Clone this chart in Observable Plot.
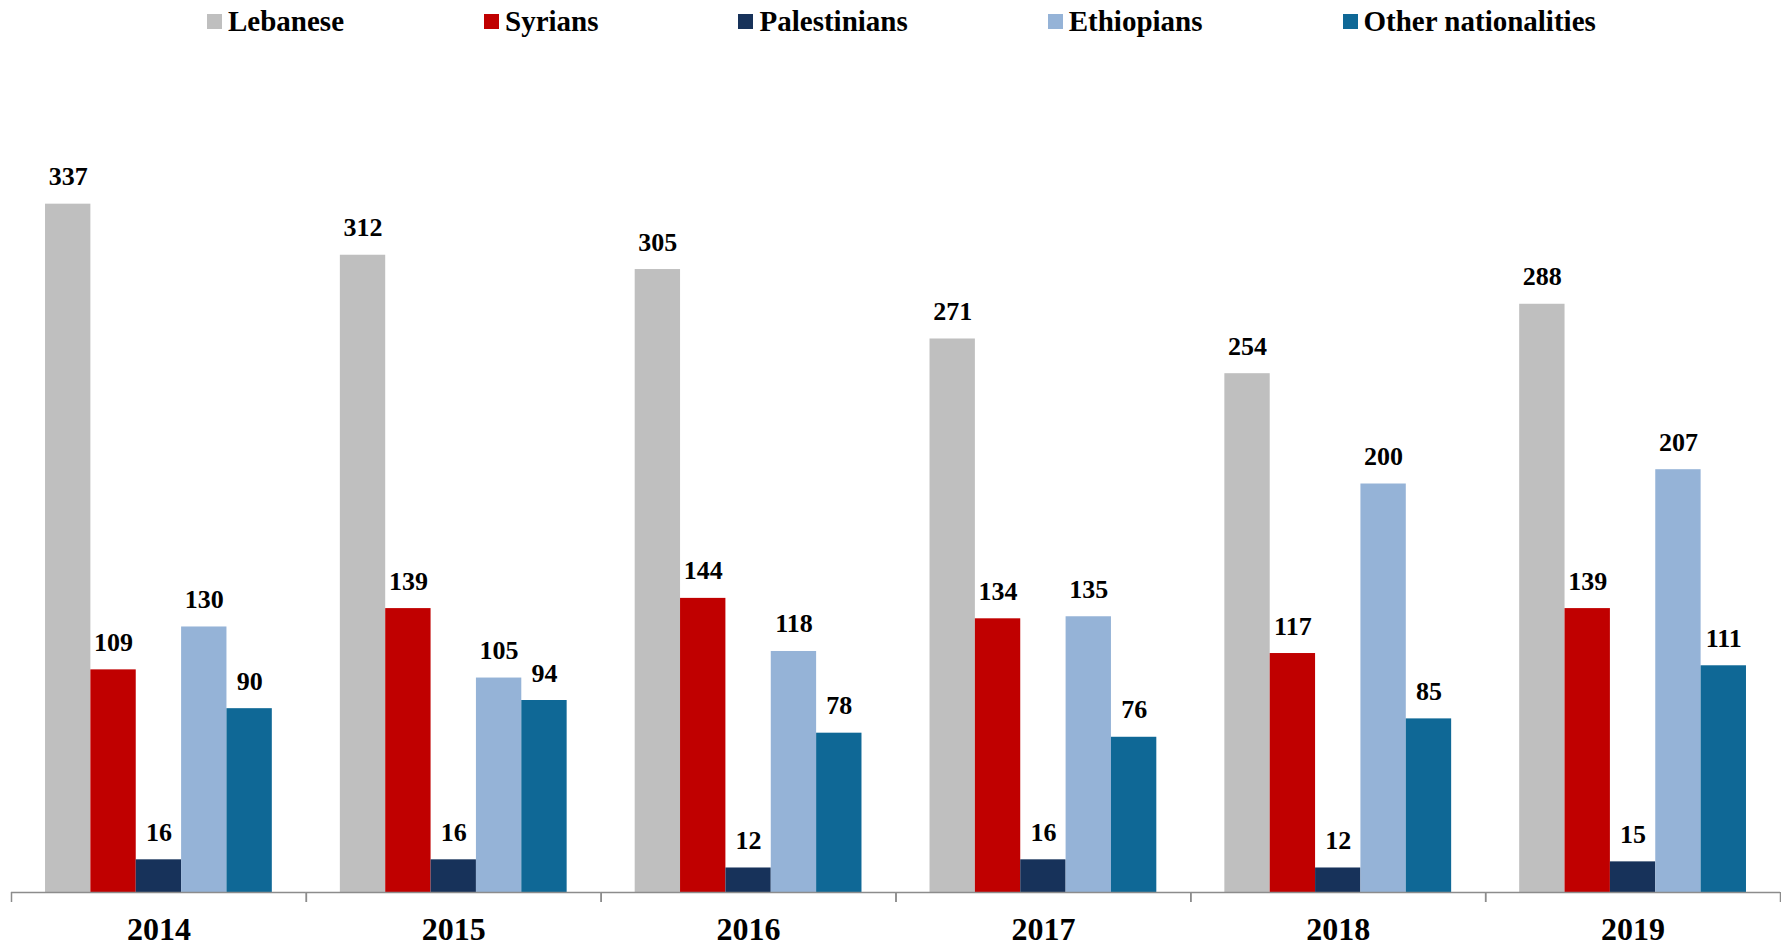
<!DOCTYPE html>
<html><head><meta charset="utf-8">
<script src="https://cdn.jsdelivr.net/npm/d3@7"></script>
<script src="https://cdn.jsdelivr.net/npm/@observablehq/plot@0.6"></script>
<style>
html,body{margin:0;padding:0;background:#fff;overflow:hidden}
body{font-family:"Liberation Serif","Times New Roman",serif}
#legend{display:flex;height:43px;align-items:center;padding-left:207px;font-size:29px;font-weight:bold;line-height:43px;color:#000}
.item{display:flex;align-items:center;margin-right:140px;white-space:nowrap}
.sw{width:15px;height:15px;margin-right:6px;flex:none}
#chart svg{display:block}
</style></head><body>
<div id="legend"></div>
<div id="chart"></div>
<script>
const years = ["2014", "2015", "2016", "2017", "2018", "2019"];
const nationalities = ["Lebanese", "Syrians", "Palestinians", "Ethiopians", "Other nationalities"];
const colors = ["#bfbfbf", "#c00000", "#17325a", "#95b3d7", "#0f6896"];
const lebanese = [337, 312, 305, 271, 254, 288];
const syrians = [109, 139, 144, 134, 117, 139];
const palestinians = [16, 16, 12, 16, 12, 15];
const ethiopians = [130, 105, 118, 135, 200, 207];
const others = [90, 94, 78, 76, 85, 111];
const series = [lebanese, syrians, palestinians, ethiopians, others];

const table = [];
years.forEach((year, i) => {
  nationalities.forEach((nat, j) => {
    table.push({year, nat, value: series[j][i]});
  });
});

// legend
const legend = document.getElementById("legend");
nationalities.forEach((nat, j) => {
  const item = document.createElement("div");
  item.className = "item";
  const sw = document.createElement("span");
  sw.className = "sw";
  sw.style.background = colors[j];
  const label = document.createElement("span");
  label.textContent = nat;
  item.appendChild(sw);
  item.appendChild(label);
  legend.appendChild(item);
});

const W = 1781, H = 903, ML = 11, MR = 1, MT = 32, MB = 54;
const padOuter = 0.75;
const step = (W - ML - MR) / years.length / (nationalities.length + 2 * padOuter);
const edge = (0.5 + padOuter) * step;
const font = '"Liberation Serif","Times New Roman",serif';

const chart = Plot.plot({
  width: W, height: H,
  marginLeft: ML, marginRight: MR, marginTop: MT, marginBottom: MB,
  style: {fontFamily: font, background: "white", color: "black", overflow: "visible"},
  fx: {domain: years, padding: 0, round: false},
  x: {domain: nationalities, paddingInner: 0, paddingOuter: padOuter, axis: null, round: false},
  y: {domain: [0, 400], axis: null},
  color: {domain: nationalities, range: colors},
  marks: [
    Plot.barY(table, {fx: "year", x: "nat", y: "value", fill: "nat"}),
    Plot.text(table, {fx: "year", x: "nat", y: "value", text: d => String(d.value), dy: -19, lineAnchor: "bottom", fontSize: 26, fontWeight: "bold", fill: "black", fontFamily: font}),
    Plot.ruleY([0], {stroke: "#8c8c8c", strokeWidth: 1.5}),
    Plot.ruleX(years, {fx: d => d, x: () => nationalities[0], y1: 0, y2: 0, insetBottom: -10, dx: -edge, stroke: "#8c8c8c", strokeWidth: 1.5}),
    Plot.ruleX(years, {fx: d => d, x: () => nationalities[nationalities.length - 1], y1: 0, y2: 0, insetBottom: -10, dx: edge, stroke: "#8c8c8c", strokeWidth: 1.5}),
    Plot.axisFx({anchor: "bottom", tickSize: 0, tickPadding: 25, fontSize: 32, fontWeight: "bold", label: null, fill: "black", fontFamily: font})
  ]
});
document.getElementById("chart").appendChild(chart);
</script>
</body></html>
